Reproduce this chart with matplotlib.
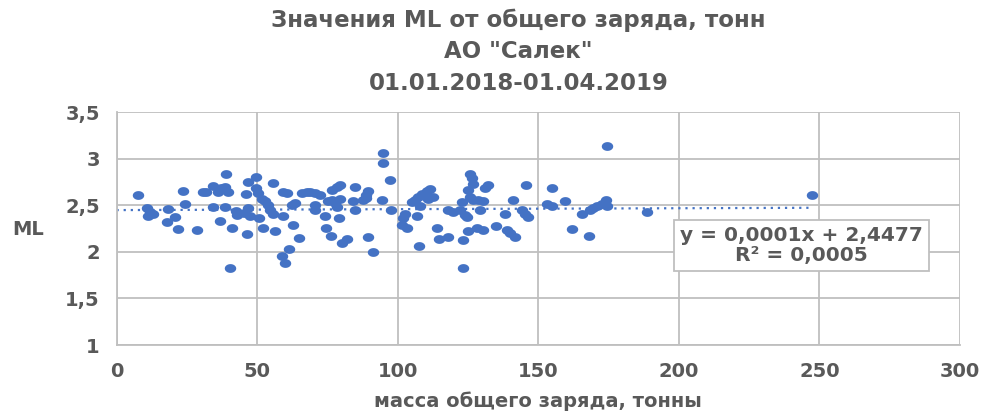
import numpy as np
import matplotlib.pyplot as plt
from matplotlib.path import Path

# масса общего заряда (тонны) и ML
mass = [7.8, 10.7, 11.9, 11.3, 13.1, 18.4, 17.9, 20.8, 22.0, 23.8, 24.4, 28.5,
        30.9, 32.0, 34.4, 34.4, 36.2, 36.8, 38.9, 38.6, 37.0, 39.8, 38.6, 41.2,
        40.4, 42.5, 42.7, 46.1, 46.7, 46.9, 47.5, 45.5, 46.5, 49.6, 49.6, 50.4,
        51.6, 52.8, 54.0, 54.6, 55.8, 50.8, 52.2, 55.8, 56.4, 59.1, 59.3, 60.5,
        62.3, 63.5, 62.9, 65.0, 61.5, 58.7, 59.9, 65.9, 67.6, 68.8, 70.6, 72.4,
        70.6, 70.6, 74.2, 74.5, 76.2, 75.3, 76.5, 77.7, 79.5, 78.3, 76.5, 78.3,
        79.5, 79.2, 80.1, 82.1, 84.8, 84.2, 84.8, 89.5, 88.9, 87.7, 88.6, 94.3,
        89.5, 91.1, 94.7, 94.7, 97.3, 97.5, 102.6, 102.0, 101.4, 103.2, 105.0,
        106.2, 107.3, 108.5, 110.3, 111.5, 112.7, 110.9, 107.9, 106.8, 107.7,
        114.1, 114.8, 117.8, 118.0, 119.8, 122.8, 122.2, 123.9, 124.5, 123.1,
        125.1, 128.1, 130.4, 123.1, 125.7, 126.3, 126.9, 125.1, 125.7, 126.9,
        128.7, 130.4, 129.3, 131.0, 132.2, 135.0, 138.2, 138.8, 139.9, 141.7,
        141.1, 144.1, 145.3, 146.4, 145.5, 154.8, 153.0, 154.8, 159.5, 161.9,
        165.4, 168.4, 169.6, 170.8, 172.5, 168.1, 174.1, 174.5, 174.5, 188.8,
        247.4]
ml = [2.61, 2.47, 2.43, 2.38, 2.41, 2.46, 2.32, 2.37, 2.24, 2.65, 2.51, 2.23,
      2.64, 2.64, 2.71, 2.48, 2.64, 2.33, 2.84, 2.70, 2.68, 2.64, 2.48, 2.26,
      1.83, 2.44, 2.40, 2.62, 2.75, 2.47, 2.38, 2.42, 2.19, 2.80, 2.68, 2.63,
      2.57, 2.54, 2.50, 2.45, 2.41, 2.36, 2.26, 2.74, 2.22, 2.38, 2.64, 2.63,
      2.50, 2.52, 2.29, 2.15, 2.03, 1.95, 1.88, 2.63, 2.64, 2.64, 2.63, 2.61,
      2.50, 2.45, 2.38, 2.26, 2.17, 2.54, 2.56, 2.52, 2.57, 2.48, 2.66, 2.70,
      2.72, 2.36, 2.09, 2.14, 2.70, 2.54, 2.45, 2.65, 2.61, 2.56, 2.58, 2.56,
      2.16, 2.00, 3.06, 2.95, 2.77, 2.45, 2.41, 2.36, 2.29, 2.26, 2.53,
      2.56, 2.59, 2.62, 2.65, 2.67, 2.59, 2.57, 2.49, 2.38, 2.06,
      2.26, 2.14, 2.16, 2.45, 2.43, 2.53, 2.45, 2.40, 2.37, 2.13,
      2.22, 2.26, 2.23, 1.83, 2.84, 2.79, 2.73, 2.66, 2.59, 2.56,
      2.56, 2.54, 2.45, 2.68, 2.72, 2.28, 2.41, 2.23, 2.20, 2.16,
      2.56, 2.45, 2.41, 2.37, 2.72, 2.69, 2.51, 2.49, 2.55, 2.25,
      2.41, 2.45, 2.47, 2.49, 2.51, 2.17, 2.56, 2.49, 3.14, 2.43,
      2.61]

# линия тренда (как в подписи Excel)
slope = 0.0001
intercept = 2.4477

xticks = [0, 50, 100, 150, 200, 250, 300]
yticks = [1, 1.5, 2, 2.5, 3, 3.5]
ytick_labels = ['1', '1,5', '2', '2,5', '3', '3,5']
title_lines = ['Значения ML от общего заряда, тонн', 'АО "Салек"',
               '01.01.2018-01.04.2019']

grey = '#595959'
blue = '#4472C4'

fig = plt.figure(figsize=(9.84, 4.18), dpi=100)
ax = fig.add_axes([0.1184, 0.1746, 0.8572, 0.5574])

# точки слегка вытянуты по горизонтали, как на исходной картинке
t = np.linspace(0, 2 * np.pi, 40)
ellipse = Path(np.c_[1.3 * np.cos(t), np.sin(t)])
ax.scatter(mass, ml, s=68, marker=ellipse, color=blue, linewidths=0, zorder=3)

tx = np.array([0, max(mass)])
ax.plot(tx, slope * tx + intercept, ls=(0, (1, 2.2)), color=blue, lw=1.6, zorder=2)

ax.set_xlim(0, 300)
ax.set_ylim(1, 3.5)
ax.set_xticks(xticks)
ax.set_yticks(yticks)
ax.set_yticklabels(ytick_labels)
ax.grid(True, color='#BFBFBF', lw=1.3)
ax.set_axisbelow(True)
for s in ['top', 'right']:
    ax.spines[s].set_visible(False)
for s in ['left', 'bottom']:
    ax.spines[s].set_color('#BFBFBF')
    ax.spines[s].set_linewidth(1.3)
ax.tick_params(length=0, pad=12)
for lab in ax.get_xticklabels() + ax.get_yticklabels():
    lab.set_fontsize(14)
    lab.set_fontweight('bold')
    lab.set_color(grey)

ax.set_xlabel('масса общего заряда, тонны', fontsize=14, fontweight='bold',
              color=grey, labelpad=8)
fig.text(0.012, 0.45, 'ML', fontsize=14, fontweight='bold', color=grey,
         ha='left', va='center')

for i, line in enumerate(title_lines):
    fig.text(0.527, 1 - (20 + 32 * i) / 418, line, ha='center', va='center',
             fontsize=16.5, fontweight='bold', color=grey)

eq = 'y = 0,0001x + 2,4477\nR² = 0,0005'
ax.text(0.812, 0.427, eq, transform=ax.transAxes, ha='center', va='center',
        fontsize=14.5, fontweight='bold', color=grey, linespacing=1.1,
        bbox=dict(boxstyle='square,pad=0.3', fc='white', ec='#BFBFBF', lw=1.3),
        zorder=5)

fig.savefig('out.png', dpi=100)
